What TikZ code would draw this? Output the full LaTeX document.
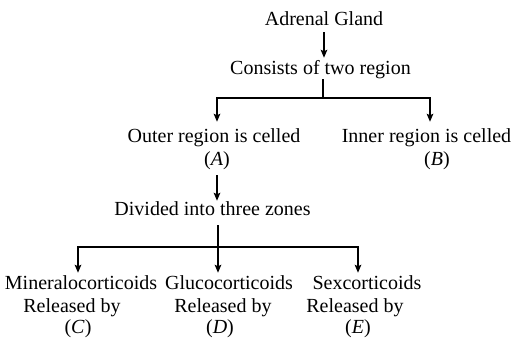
\documentclass[tikz,border=0pt]{standalone}
\usepackage{fontspec}
\setmainfont{Liberation Serif}
\usetikzlibrary{arrows.meta}
\begin{document}
\begin{tikzpicture}[x=1pt,y=-1pt,
  lbl/.style={anchor=base,inner sep=0pt,text height=14pt,text depth=5pt,font=\fontsize{20}{24}\selectfont},
  conn/.style={line width=1.6pt},
  arr/.style={conn,-{Stealth[length=8pt,width=6.5pt,inset=1.5pt]}}]
\useasboundingbox (0,0) rectangle (520,338);
% nodes
\node[lbl] (ag) at (324,25) {Adrenal Gland};
\node[lbl] (cons) at (320.5,74) {Consists of two region};
\node[lbl] (outer) at (214,142) {Outer region is celled};
\node[lbl] (inner) at (426.5,142) {Inner region is celled};
\node[lbl] (A) at (217,165) {(\textit{A})};
\node[lbl] (B) at (437,165) {(\textit{B})};
\node[lbl] (div) at (212.5,215) {Divided into three zones};
\node[lbl] (min) at (81,289) {Mineralocorticoids};
\node[lbl] (glu) at (229,289) {Glucocorticoids};
\node[lbl] (sex) at (367,289) {Sexcorticoids};
\node[lbl] (r1) at (72,312) {Released by};
\node[lbl] (r2) at (223,312) {Released by};
\node[lbl] (r3) at (355,312) {Released by};
\node[lbl] (C) at (78,333) {(\textit{C})};
\node[lbl] (D) at (220,333) {(\textit{D})};
\node[lbl] (E) at (358,333) {(\textit{E})};
% junctions
\coordinate (b1) at (323,98);
\coordinate (b2) at (218,247);
% connectors
\draw[arr,shorten <=2pt,shorten >=2pt] (ag.south) -- (ag.south |- cons.north);
\draw[conn] (cons.south -| b1) -- (b1);
\draw[arr,shorten >=6pt] (b1) -| (A.north |- outer.north);
\draw[arr,shorten >=6pt] (b1) -| ([xshift=3.5pt]inner.north);
\draw[arr,shorten <=5pt] (A.south) -- (A.south |- div.north);
\draw[conn,shorten <=5pt] (div.south -| b2) -- (b2);
\draw[arr,shorten >=2pt] (b2) -| (C.north |- min.north);
\draw[arr,shorten >=2pt] (b2) -- (b2 |- glu.north);
\draw[arr,shorten >=2pt] (b2) -| (E.north |- sex.north);
\end{tikzpicture}
\end{document}
